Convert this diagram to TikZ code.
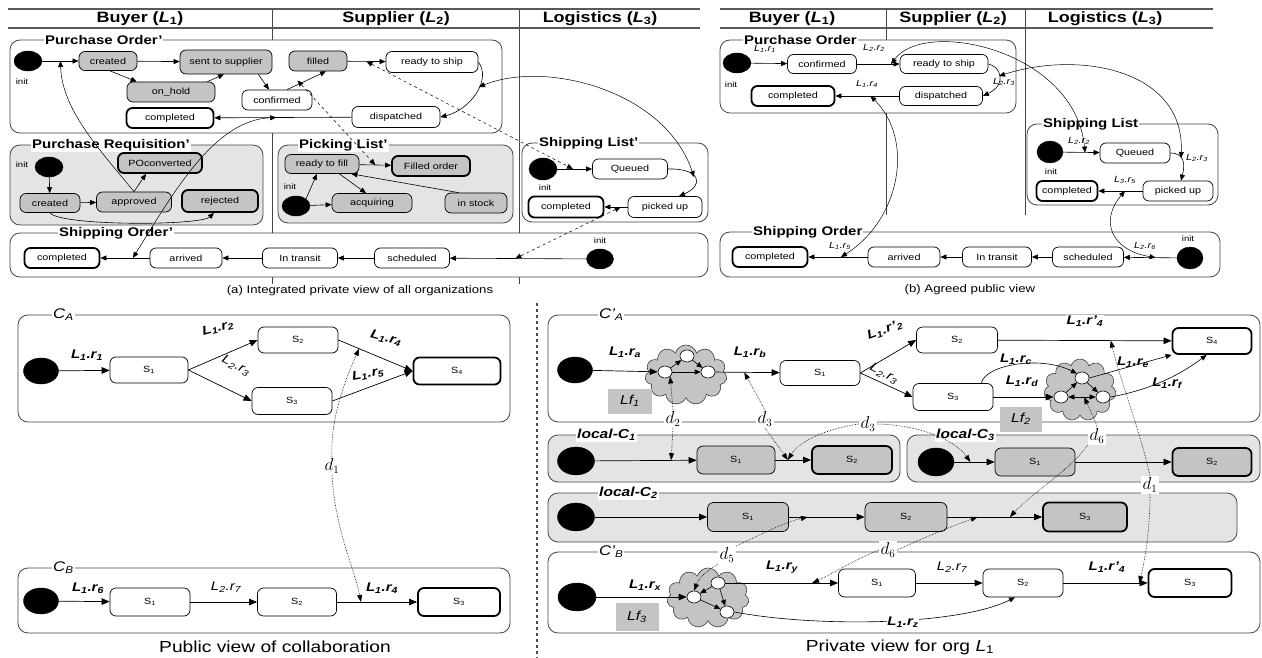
\documentclass[tikz,border=0pt]{standalone}
\usepackage{fontspec}
\setmainfont{Liberation Sans}[FakeStretch=1.2]
\usetikzlibrary{arrows.meta,shapes.geometric,shapes.symbols,calc}
\newcommand\Lr[2]{\textit{L}\textsubscript{#1}\textit{.r}\textsubscript{\itshape #2}}
\newcommand\Lrp[2]{\textit{L}\textsubscript{#1}\textit{.r'}\textsubscript{\itshape #2}}
\definecolor{stgray}{RGB}{196,196,196}
\definecolor{bxgray}{RGB}{228,228,228}
\definecolor{ln}{RGB}{70,70,70}
\begin{document}
\begin{tikzpicture}[x=1pt,y=-1pt,
 sz/.style 2 args={minimum width=#1pt,minimum height=#2pt},
 st/.style={draw=black,rounded corners=6pt,fill=white,font=\fontsize{9}{10}\selectfont,inner sep=1pt,line width=0.7pt},
 gs/.style={st,fill=stgray},
 fin/.style={line width=1.8pt},
 ini/.style={ellipse,fill=black,draw=black,inner sep=0pt},
 cbox/.style={draw=ln,rounded corners=10pt,line width=0.8pt,fill=white},
 gbox/.style={cbox,fill=bxgray},
 ttl/.style={fill=white,inner sep=1pt,font=\bfseries\fontsize{12.5}{13}\selectfont,anchor=west},
 ctl/.style={fill=white,inner sep=1pt,font=\itshape\fontsize{14}{14}\selectfont,anchor=west},
 ltl/.style={fill=white,inner sep=1pt,font=\bfseries\itshape\fontsize{13}{14}\selectfont,anchor=west},
 hd/.style={font=\bfseries\fontsize{15}{16}\selectfont},
 itx/.style={font=\fontsize{8}{9}\selectfont,inner sep=1pt},
 tl/.style={font=\itshape\fontsize{9}{10}\selectfont,inner sep=1pt},
 bl/.style={font=\bfseries\itshape\fontsize{12.5}{13}\selectfont,inner sep=0.5pt},
 il/.style={font=\itshape\fontsize{12.5}{13}\selectfont,inner sep=0.5pt},
 ar/.style={-{Triangle[length=6pt,width=5pt]},line width=0.6pt},
 bar/.style={-{Triangle[length=8pt,width=6.5pt]},line width=0.7pt},
 dbl/.style={{Triangle[length=6pt,width=5pt]}-{Triangle[length=6pt,width=5pt]},line width=0.5pt},
 dsh/.style={dbl,dashed},
 dotd/.style={-{Triangle[length=7pt,width=5pt]},line width=0.6pt,densely dotted},
 dl/.style={fill=white,inner sep=1.5pt,font=\fontsize{16}{16}\selectfont},
 hl/.style={line width=1.6pt,draw=gray!70!black},
 vl/.style={line width=0.8pt,draw=ln},
 sc/.style={draw=black,ellipse,fill=white,minimum width=14pt,minimum height=12pt,inner sep=0pt,line width=0.6pt},
 cld/.style={cloud,cloud puffs=11,aspect=1.4,draw=gray!50!black,fill=stgray,inner sep=0pt,line width=0.6pt},
 lf/.style={fill=stgray,font=\itshape\fontsize{13}{14}\selectfont,inner sep=0pt},
 capt/.style={font=\fontsize{11}{12}\selectfont},
 bcapt/.style={font=\fontsize{16}{17}\selectfont}]
\useasboundingbox (0,0) rectangle (1262,658);
\fill[white] (0,0) rectangle (1262,658);

%================ (a) =================
\draw[vl] (272,9) -- (272,284);
\draw[vl] (519,9) -- (519,284);
\draw[hl] (8,9) -- (700,9);
\draw[hl] (8,28) -- (700,28);
\node[hd] (ha1) at (140,18.5) {Buyer (\textit{L}\textsubscript{1})};
\node[hd] (ha2) at (396,18.5) {Supplier (\textit{L}\textsubscript{2})};
\node[hd] (ha3) at (600,18.5) {Logistics (\textit{L}\textsubscript{3})};

% Purchase Order'
\draw[cbox] (10,40) rectangle (502,133);
\node[ttl] (t-apo) at (44,40) {Purchase Order'};
\node[ini,sz={28}{20}] (a-in) at (28,61) {};
\node[itx] (a-inl) at (22,82) {init};
\node[gs,sz={58}{19}] (a-cr) at (108,61) {created};
\node[gs,sz={92}{24}] (a-se) at (226,62) {sent to supplier};
\node[gs,sz={58}{20}] (a-fi) at (318,61) {filled};
\node[st,sz={92}{21}] (a-rs) at (432,62) {ready to ship};
\node[gs,sz={88}{20}] (a-oh) at (171,92) {on\_hold};
\node[st,sz={70}{20}] (a-co) at (277,100) {confirmed};
\node[st,fin,sz={87}{20}] (a-cp) at (170,118) {completed};
\node[st,sz={88}{21}] (a-di) at (396,117) {dispatched};
\draw[ar] (a-in) -- (a-cr);
\draw[ar] (a-cr) -- (a-se);
\draw[ar] ($(a-cr.south)+(2,0)$) -- ($(a-oh.north west)+(10,0)$);
\draw[ar] ($(a-oh.north east)+(-8,0)$) -- ($(a-se.south)+(-2,0)$);
\draw[ar] ($(a-se.south east)+(-14,0)$) -- ($(a-co.north)+(-8,0)$);
\draw[ar] ($(a-co.north)+(10,0)$) -- ($(a-fi.south)+(8,0)$);
\draw[ar] (a-fi) -- (a-rs);
\draw[ar] (a-rs.east) .. controls (492,80) and (470,110) .. (a-di.east);
\draw[ar] (a-di) -- (a-cp);

% Purchase Requisition'
\draw[gbox] (10,145) rectangle (263,225);
\node[ttl] (t-apr) at (31,145) {Purchase Requisition'};
\node[ini,sz={28}{20}] (pr-in) at (49,167) {};
\node[itx] (pr-inl) at (22,165) {init};
\node[gs,sz={60}{19}] (pr-cr) at (50,203) {created};
\node[gs,sz={75}{20}] (pr-ap) at (134,202) {approved};
\node[gs,fin,sz={84}{20}] (pr-po) at (160,163) {POconverted};
\node[gs,fin,sz={76}{22}] (pr-rj) at (220,201) {rejected};
\draw[ar] (pr-in) -- (pr-cr);
\draw[ar] (pr-cr) -- (pr-ap);
\draw[ar] (pr-ap.north) -- ($(pr-po.south)+(-14,0)$);
\draw[ar] (pr-cr.south) .. controls (60,226) and (200,226) .. ($(pr-rj.south)+(-6,0)$);

% Picking List'
\draw[gbox] (278,145) rectangle (513,223);
\node[ttl] (t-apl) at (298,145) {Picking List'};
\node[gs,sz={74}{19}] (pl-rf) at (322,164) {ready to fill};
\node[ini,sz={28}{20}] (pl-in) at (296,206) {};
\node[itx] (pl-inl) at (290,187) {init};
\node[gs,fin,sz={78}{20}] (pl-fo) at (431,166) {Filled order};
\node[gs,sz={80}{19}] (pl-aq) at (372,203) {acquiring};
\node[gs,sz={62}{20}] (pl-is) at (476,203) {in stock};
\draw[ar] (pl-in.north east) -- ($(pl-rf.south)+(-5,0)$);
\draw[ar] (pl-in) -- (pl-aq);
\draw[ar] (pl-rf) -- (pl-fo);
\draw[ar] ($(pl-rf.south east)+(-20,0)$) -- ($(pl-aq.north)+(-6,0)$);
\draw[ar] ($(pl-is.north west)+(14,0)$) -- ($(pl-rf.south east)+(-8,0)$);

% Shipping List'
\draw[cbox] (522,143) rectangle (708,222);
\node[ttl] (t-asl) at (538,143) {Shipping List'};
\node[ini,sz={28}{22}] (sl-in) at (543,169) {};
\node[itx] (sl-inl) at (545,188) {init};
\node[st,sz={75}{20}] (sl-q) at (630,169) {Queued};
\node[st,fin,sz={75}{21}] (sl-cp) at (566,207) {completed};
\node[st,sz={74}{21}] (sl-pu) at (665,207) {picked up};
\draw[ar] (sl-in) -- (sl-q);
\draw[ar] (sl-q.east) .. controls (700,168) and (705,185) .. ($(sl-pu.north)+(14,0)$);
\draw[ar] (sl-pu) -- (sl-cp);

% Shipping Order'
\draw[cbox] (10,233) rectangle (708,277);
\node[ttl] (t-aso) at (58,233) {Shipping Order'};
\node[st,fin,sz={75}{20}] (so-cp) at (62,258) {completed};
\node[st,sz={72}{20}] (so-ar) at (186,258) {arrived};
\node[st,sz={75}{20}] (so-tr) at (300,258) {In transit};
\node[st,sz={75}{20}] (so-sc) at (412,258) {scheduled};
\node[ini,sz={27}{20}] (so-in) at (600,259) {};
\node[itx] (so-inl) at (600,241) {init};
\draw[ar] (so-in) -- (so-sc);
\draw[ar] (so-sc) -- (so-tr);
\draw[ar] (so-tr) -- (so-ar);
\draw[ar] (so-ar) -- (so-cp);

% dependencies (a)
\coordinate (a-t0) at ($(a-in.east)!0.5!(a-cr.west)$);
\coordinate (a-t1) at ($(a-cp.east)!0.45!(a-di.west)$);
\coordinate (a-t2) at ($(so-cp.east)!0.66!(so-ar.west)$);
\coordinate (a-t3) at ($(a-fi.east)!0.5!(a-rs.west)$);
\coordinate (a-t4) at ($(sl-in.east)!0.45!(sl-q.west)$);
\coordinate (a-t5) at ($(a-co.north)!0.5!(a-fi.south)$);
\coordinate (a-t6) at ($(pl-rf.east)!0.5!(pl-fo.west)$);
\coordinate (a-t7) at (479,87);
\coordinate (a-t8) at (694,177);
\coordinate (a-t9) at ($(sl-cp.east)!0.7!(sl-pu.west)$);
\coordinate (a-t10) at ($(so-sc.east)!0.48!(so-in.west)$);
\draw[ar,line width=0.5pt] (pr-ap.north) .. controls (100,150) and (62,110) .. (a-t0);
\draw[dbl] (a-t2) .. controls (175,190) and (215,120) .. (a-t1);
\draw[dsh] (a-t3) -- (a-t4);
\draw[dsh] (a-t5) -- (a-t6);
\draw[dbl] (a-t7) .. controls (545,60) and (665,90) .. (a-t8);
\draw[dsh] (a-t9) -- (a-t10);
\node[capt] (ca) at (360,291) {(a) Integrated private view of all organizations};

%================ (b) =================
\draw[vl] (886,9) -- (886,215);
\draw[vl] (1025,9) -- (1025,215);
\draw[hl] (720,9) -- (1213,9);
\draw[hl] (720,28) -- (1213,28);
\node[hd] (hb1) at (792,18.5) {Buyer (\textit{L}\textsubscript{1})};
\node[hd] (hb2) at (953,18.5) {Supplier (\textit{L}\textsubscript{2})};
\node[hd] (hb3) at (1105,18.5) {Logistics (\textit{L}\textsubscript{3})};

\draw[cbox] (720,40) rectangle (1016,113);
\node[ttl] (t-bpo) at (743,40) {Purchase Order};
\node[ini,sz={28}{20}] (b-in) at (737,63) {};
\node[itx] (b-inl) at (731,85) {init};
\node[st,sz={69}{19}] (b-co) at (822,64) {confirmed};
\node[st,sz={88}{19}] (b-rs) at (944,64) {ready to ship};
\node[st,fin,sz={83}{20}] (b-cp) at (793,96) {completed};
\node[st,sz={83}{19}] (b-di) at (941,96) {dispatched};
\draw[ar] (b-in) -- (b-co);
\draw[ar] (b-co) -- (b-rs);
\draw[ar] (b-rs.east) .. controls (1000,66) and (1008,84) .. (b-di.east);
\draw[ar] (b-di) -- (b-cp);
\node[tl] (lb1) at (765,49) {\Lr{1}{1}};
\node[tl] (lb2) at (874,48) {\Lr{2}{2}};
\node[tl] (lb3) at (867,84) {\Lr{1}{4}};
\node[tl] (lb4) at (1004,82) {\Lr{2}{3}};

\draw[cbox] (1027,124) rectangle (1218,205);
\node[ttl] (t-bsl) at (1042,124) {Shipping List};
\node[ini,sz={26}{22}] (bs-in) at (1050,152) {};
\node[itx] (bs-inl) at (1051,172) {init};
\node[st,sz={70}{20}] (bs-q) at (1135,153) {Queued};
\node[st,fin,sz={61}{20}] (bs-cp) at (1067,191) {completed};
\node[st,sz={70}{20}] (bs-pu) at (1178,191) {picked up};
\draw[ar] (bs-in) -- (bs-q);
\draw[ar] (bs-q.east) .. controls (1185,153) and (1185,165) .. ($(bs-pu.north)+(3,0)$);
\draw[ar] (bs-pu) -- (bs-cp);
\node[tl] (lb5) at (1079,141) {\Lr{2}{2}};
\node[tl] (lb6) at (1197,158) {\Lr{2}{3}};
\node[tl] (lb7) at (1125,180) {\Lr{3}{5}};

\draw[cbox] (720,232) rectangle (1220,277);
\node[ttl] (t-bso) at (752,232) {Shipping Order};
\node[st,fin,sz={75}{20}] (bo-cp) at (770,257) {completed};
\node[st,sz={72}{20}] (bo-ar) at (904,257) {arrived};
\node[st,sz={69}{20}] (bo-tr) at (997,257) {In transit};
\node[st,sz={71}{20}] (bo-sc) at (1088,257) {scheduled};
\node[ini,sz={26}{22}] (bo-in) at (1190,258) {};
\node[itx] (bo-inl) at (1188,239) {init};
\draw[ar] (bo-in) -- (bo-sc);
\draw[ar] (bo-sc) -- (bo-tr);
\draw[ar] (bo-tr) -- (bo-ar);
\draw[ar] (bo-ar) -- (bo-cp);
\node[tl] (lb8) at (840,246) {\Lr{1}{5}};
\node[tl] (lb9) at (1145,246) {\Lr{2}{6}};

\coordinate (b-t1) at ($(b-co.east)!0.8!(b-rs.west)$);
\coordinate (b-t2) at ($(bs-in.east)!0.6!(bs-q.west)$);
\coordinate (b-t3) at (999,76);
\coordinate (b-t4) at (1181,158);
\coordinate (b-t5) at ($(b-cp.east)!0.55!(b-di.west)$);
\coordinate (b-t6) at ($(bo-cp.east)!0.55!(bo-ar.west)$);
\coordinate (b-t7) at ($(bs-cp.east)!0.6!(bs-pu.west)$);
\coordinate (b-t8) at ($(bo-sc.east)!0.6!(bo-in.west)$);
\draw[dbl] (b-t1) .. controls (925,18) and (1075,50) .. (b-t2);
\draw[dbl] (b-t3) .. controls (1080,50) and (1185,70) .. (b-t4);
\draw[dbl] (b-t5) .. controls (915,140) and (900,220) .. (b-t6);
\draw[dbl] (b-t7) .. controls (1100,220) and (1110,250) .. (b-t8);
\node[capt] (cbb) at (970,290) {(b) Agreed public view};

%================ bottom left =================
\draw[dashed,line width=1.2pt,draw=gray!60!black] (537,303) -- (537,658);

\draw[cbox] (18,315) rectangle (510,422);
\node[ctl] (t-ca) at (52,315) {C\textsubscript{A}};
\node[ini,sz={35}{26}] (ca-in) at (41,371) {};
\node[st,sz={78}{26}] (ca-1) at (149,370) {S\textsubscript{1}};
\node[st,sz={80}{26}] (ca-2) at (298,340) {S\textsubscript{2}};
\node[st,sz={80}{27}] (ca-3) at (292,401) {S\textsubscript{3}};
\node[st,fin,sz={87}{27}] (ca-4) at (457,371) {S\textsubscript{4}};
\draw[bar] (ca-in) -- (ca-1);
\draw[bar] (ca-1.east) -- (ca-2.west);
\draw[bar] (ca-1.east) -- (ca-3.west);
\draw[bar] (ca-2.east) -- (ca-4.west);
\draw[bar] (ca-3.east) -- (ca-4.west);
\node[bl] (lc1) at (87,355) {\Lr{1}{1}};
\node[bl,rotate=15] (lc2) at (218,328) {\Lr{1}{2}};
\node[il,rotate=-28] (lc3) at (236,366) {\Lr{2}{3}};
\node[bl,rotate=-15] (lc4) at (386,338) {\Lr{1}{4}};
\node[bl,rotate=10] (lc5) at (368,374) {\Lr{1}{5}};

\draw[cbox] (18,568) rectangle (510,633);
\node[ctl] (t-cb) at (52,568) {C\textsubscript{B}};
\node[ini,sz={35}{26}] (cb-in) at (41,601) {};
\node[st,sz={80}{28}] (cb-1) at (150,602) {S\textsubscript{1}};
\node[st,sz={79}{28}] (cb-2) at (297,602) {S\textsubscript{2}};
\node[st,fin,sz={82}{28}] (cb-3) at (459,602) {S\textsubscript{3}};
\draw[bar] (cb-in) -- (cb-1);
\draw[bar] (cb-1) -- (cb-2);
\draw[bar] (cb-2) -- (cb-3);
\node[bl] (lc6) at (88,588) {\Lr{1}{6}};
\node[il] (lc7) at (226,587) {\Lr{2}{7}};
\node[bl] (lc8) at (382,588) {\Lr{1}{4}};

\node[dl] (d1a) at (332,466) {$d_1$};
\coordinate (ca-t) at ($(ca-2.east)!0.28!(ca-4.west)$);
\coordinate (cb-t) at ($(cb-2.east)!0.3!(cb-3.west)$);
\draw[dotd] (d1a.north) .. controls (330,420) and (345,380) .. (ca-t);
\draw[dotd] (d1a.south) .. controls (335,530) and (355,570) .. (cb-t);
\node[bcapt] (capl) at (275,647) {Public view of collaboration};

%================ bottom right =================
\draw[cbox] (548,315) rectangle (1260,422);
\node[ctl] (t-pa) at (598,315) {C'\textsubscript{A}};
\node[ini,sz={35}{26}] (pa-in) at (575,370) {};
\node[cld,minimum width=82pt,minimum height=60pt] (pa-cl) at (686,375) {};
\node[sc] (pa-a) at (665,372) {};
\node[sc] (pa-b) at (687,356) {};
\node[sc] (pa-c) at (708,372) {};
\node[st,sz={80}{25}] (pa-1) at (820,373) {S\textsubscript{1}};
\node[st,sz={81}{26}] (pa-2) at (957,340) {S\textsubscript{2}};
\node[st,sz={80}{27}] (pa-3) at (953,397) {S\textsubscript{3}};
\node[cld,minimum width=72pt,minimum height=62pt] (pa-cl2) at (1080,390) {};
\node[sc] (pa-d) at (1061,397) {};
\node[sc] (pa-e) at (1082,378) {};
\node[sc] (pa-f) at (1103,397) {};
\node[st,fin,sz={79}{26}] (pa-4) at (1212,341) {S\textsubscript{4}};
\node[lf,sz={44}{25}] (lf1) at (630,401) {Lf\textsubscript{1}};
\node[lf,sz={42}{25}] (lf2) at (1021,419) {Lf\textsubscript{2}};
\draw[bar] (pa-in) -- (pa-a);
\draw[ar] (pa-a) -- (pa-b);
\draw[ar] (pa-b) -- (pa-c);
\draw[ar] (pa-a) -- (pa-c);
\draw[bar] (pa-c) -- (pa-1);
\draw[bar] (pa-1.east) -- (pa-2.west);
\draw[bar] (pa-1.east) -- (pa-3.west);
\draw[bar] (pa-2) -- (pa-4);
\draw[bar] (pa-3) -- (pa-d);
\draw[ar] ($(pa-3.north east)+(-12,0)$) .. controls (985,365) and (1040,355) .. (pa-e.north west);
\draw[ar] (pa-d) -- (pa-e);
\draw[ar] (pa-e) -- (pa-f);
\draw[dbl] (pa-d) -- (pa-f);
\draw[ar] (pa-e.east) -- (pa-4.south west);
\draw[ar] (pa-f.east) .. controls (1150,390) and (1180,375) .. ($(pa-4.south west)+(35,0)$);
\node[bl] (lp1) at (625,352) {\Lr{1}{a}};
\node[bl] (lp2) at (750,352) {\Lr{1}{b}};
\node[bl,rotate=20] (lp3) at (885,330) {\Lrp{1}{2}};
\node[il,rotate=-28] (lp4) at (884,374) {\Lr{2}{3}};
\node[bl,fill=white] (lp5) at (1085,321) {\Lrp{1}{4}};
\node[bl] (lp6) at (1016,359) {\Lr{1}{c}};
\node[bl] (lp7) at (1022,381) {\Lr{1}{d}};
\node[bl] (lp8) at (1133,362) {\Lr{1}{e}};
\node[bl] (lp9) at (1167,383) {\Lr{1}{f}};

% local-C1
\draw[gbox] (548,435) rectangle (900,482);
\node[ltl] (t-l1) at (576,435) {local-C\textsubscript{1}};
\node[ini,sz={37}{28}] (l1-in) at (576,461) {};
\node[gs,sz={78}{28}] (l1-1) at (736,460) {S\textsubscript{1}};
\node[gs,fin,sz={80}{28}] (l1-2) at (852,460) {S\textsubscript{2}};
\draw[bar] (l1-in) -- (l1-1);
\draw[bar] (l1-1) -- (l1-2);

% local-C3
\draw[gbox] (907,435) rectangle (1260,482);
\node[ltl] (t-l3) at (935,435) {local-C\textsubscript{3}};
\node[ini,sz={36}{28}] (l3-in) at (936,462) {};
\node[gs,sz={80}{28}] (l3-1) at (1035,462) {S\textsubscript{1}};
\node[gs,fin,sz={79}{28}] (l3-2) at (1212,462) {S\textsubscript{2}};
\draw[bar] (l3-in) -- (l3-1);
\draw[bar] (l3-1) -- (l3-2);

% local-C2
\draw[gbox] (548,493) rectangle (1237,542);
\node[ltl] (t-l2) at (598,493) {local-C\textsubscript{2}};
\node[ini,sz={37}{28}] (l2-in) at (576,517) {};
\node[gs,sz={81}{29}] (l2-1) at (748,517) {S\textsubscript{1}};
\node[gs,sz={82}{29}] (l2-2) at (906,517) {S\textsubscript{2}};
\node[gs,fin,sz={84}{29}] (l2-3) at (1085,517) {S\textsubscript{3}};
\draw[bar] (l2-in) -- (l2-1);
\draw[bar] (l2-1) -- (l2-2);
\draw[bar] (l2-2) -- (l2-3);

% C'B
\draw[cbox] (548,552) rectangle (1260,633);
\node[ctl] (t-pb) at (598,552) {C'\textsubscript{B}};
\node[ini,sz={38}{28}] (pb-in) at (577,597) {};
\node[cld,minimum width=82pt,minimum height=60pt] (pb-cl) at (708,598) {};
\node[sc] (pb-a) at (694,597) {};
\node[sc] (pb-b) at (718,583) {};
\node[sc] (pb-c) at (727,612) {};
\node[st,sz={77}{28}] (pb-1) at (877,583) {S\textsubscript{1}};
\node[st,sz={80}{28}] (pb-2) at (1023,583) {S\textsubscript{2}};
\node[st,fin,sz={83}{28}] (pb-3) at (1190,583) {S\textsubscript{3}};
\node[lf,sz={43}{28}] (lf3) at (637,617) {Lf\textsubscript{3}};
\draw[bar] (pb-in) -- (pb-a);
\draw[ar] (pb-b) -- (pb-a);
\draw[ar] (pb-b) -- (pb-c);
\draw[ar] (pb-a) -- (pb-c);
\draw[bar] (pb-b) -- (pb-1);
\draw[bar] (pb-1) -- (pb-2);
\draw[bar] (pb-2) -- (pb-3);
\draw[ar] (pb-c.east) .. controls (820,628) and (960,625) .. ($(pb-2.south)+(-8,0)$);
\node[bl] (lq1) at (645,585) {\Lr{1}{x}};
\node[bl] (lq2) at (782,567) {\Lr{1}{y}};
\node[il] (lq3) at (952,567) {\Lr{2}{7}};
\node[bl] (lq4) at (1107,567) {\Lrp{1}{4}};
\node[bl,fill=white] (lq5) at (903,622) {\Lr{1}{z}};

% dependencies (bottom right)
\node[dl] (d2) at (673,419) {$d_2$};
\node[dl] (d3a) at (765,419) {$d_3$};
\node[dl] (d3b) at (868,424) {$d_3$};
\node[dl] (d6a) at (1097,436) {$d_6$};
\node[dl] (d1b) at (1150,485) {$d_1$};
\node[dl] (d5) at (727,555) {$d_5$};
\node[dl] (d6b) at (888,550) {$d_6$};
\coordinate (tl1a) at ($(l1-in.east)!0.75!(l1-1.west)$);
\coordinate (tp2) at ($(pa-c.east)!0.45!(pa-1.west)$);
\coordinate (tl1b) at ($(l1-1.east)!0.35!(l1-2.west)$);
\coordinate (tl3a) at ($(l3-in.east)!0.4!(l3-1.west)$);
\coordinate (tpc2) at ($(pa-d)!0.55!(pa-f)$);
\coordinate (tl2c) at ($(l2-2.east)!0.66!(l2-3.west)$);
\coordinate (tpa4) at ($(pa-2.east)!0.65!(pa-4.west)$);
\coordinate (tpb3) at ($(pb-2.east)!0.9!(pb-3.west)$);
\coordinate (tl2a) at ($(l2-1.east)!0.25!(l2-2.west)$);
\coordinate (tpb1) at ($(pb-b.east)!0.77!(pb-1.west)$);
\coordinate (tl2b) at ($(l2-2.east)!0.32!(l2-3.west)$);
\draw[dotd] (d2.north) -- (pa-a.south east);
\draw[dotd] (d2.south) -- (tl1a);
\draw[dotd] (d3a.north) -- (tp2);
\draw[dotd] (d3a.south) -- (tl1b);
\draw[dotd] (d3b.west) .. controls (830,428) and (800,440) .. (tl1b);
\draw[dotd] (d3b.east) .. controls (920,425) and (955,440) .. (tl3a);
\draw[dotd] (d6a.north) .. controls (1095,420) and (1090,410) .. (tpc2);
\draw[dotd] (d6a.south west) .. controls (1070,470) and (1030,495) .. (tl2c);
\draw[dotd] (d1b.north) .. controls (1140,430) and (1120,380) .. (tpa4);
\draw[dotd] (d1b.south) .. controls (1150,530) and (1145,560) .. (tpb3);
\draw[dotd] (d5.north east) .. controls (760,535) and (785,522) .. (tl2a);
\draw[dotd] (d5.south west) .. controls (712,568) and (700,575) .. (pb-a.north);
\draw[dotd] (d6b.west) .. controls (850,562) and (830,575) .. (tpb1);
\draw[dotd] (d6b.east) .. controls (930,535) and (955,525) .. (tl2b);
\node[bcapt] (capr) at (900,647) {Private view for org \textit{L}\textsubscript{1}};
\end{tikzpicture}
\end{document}
